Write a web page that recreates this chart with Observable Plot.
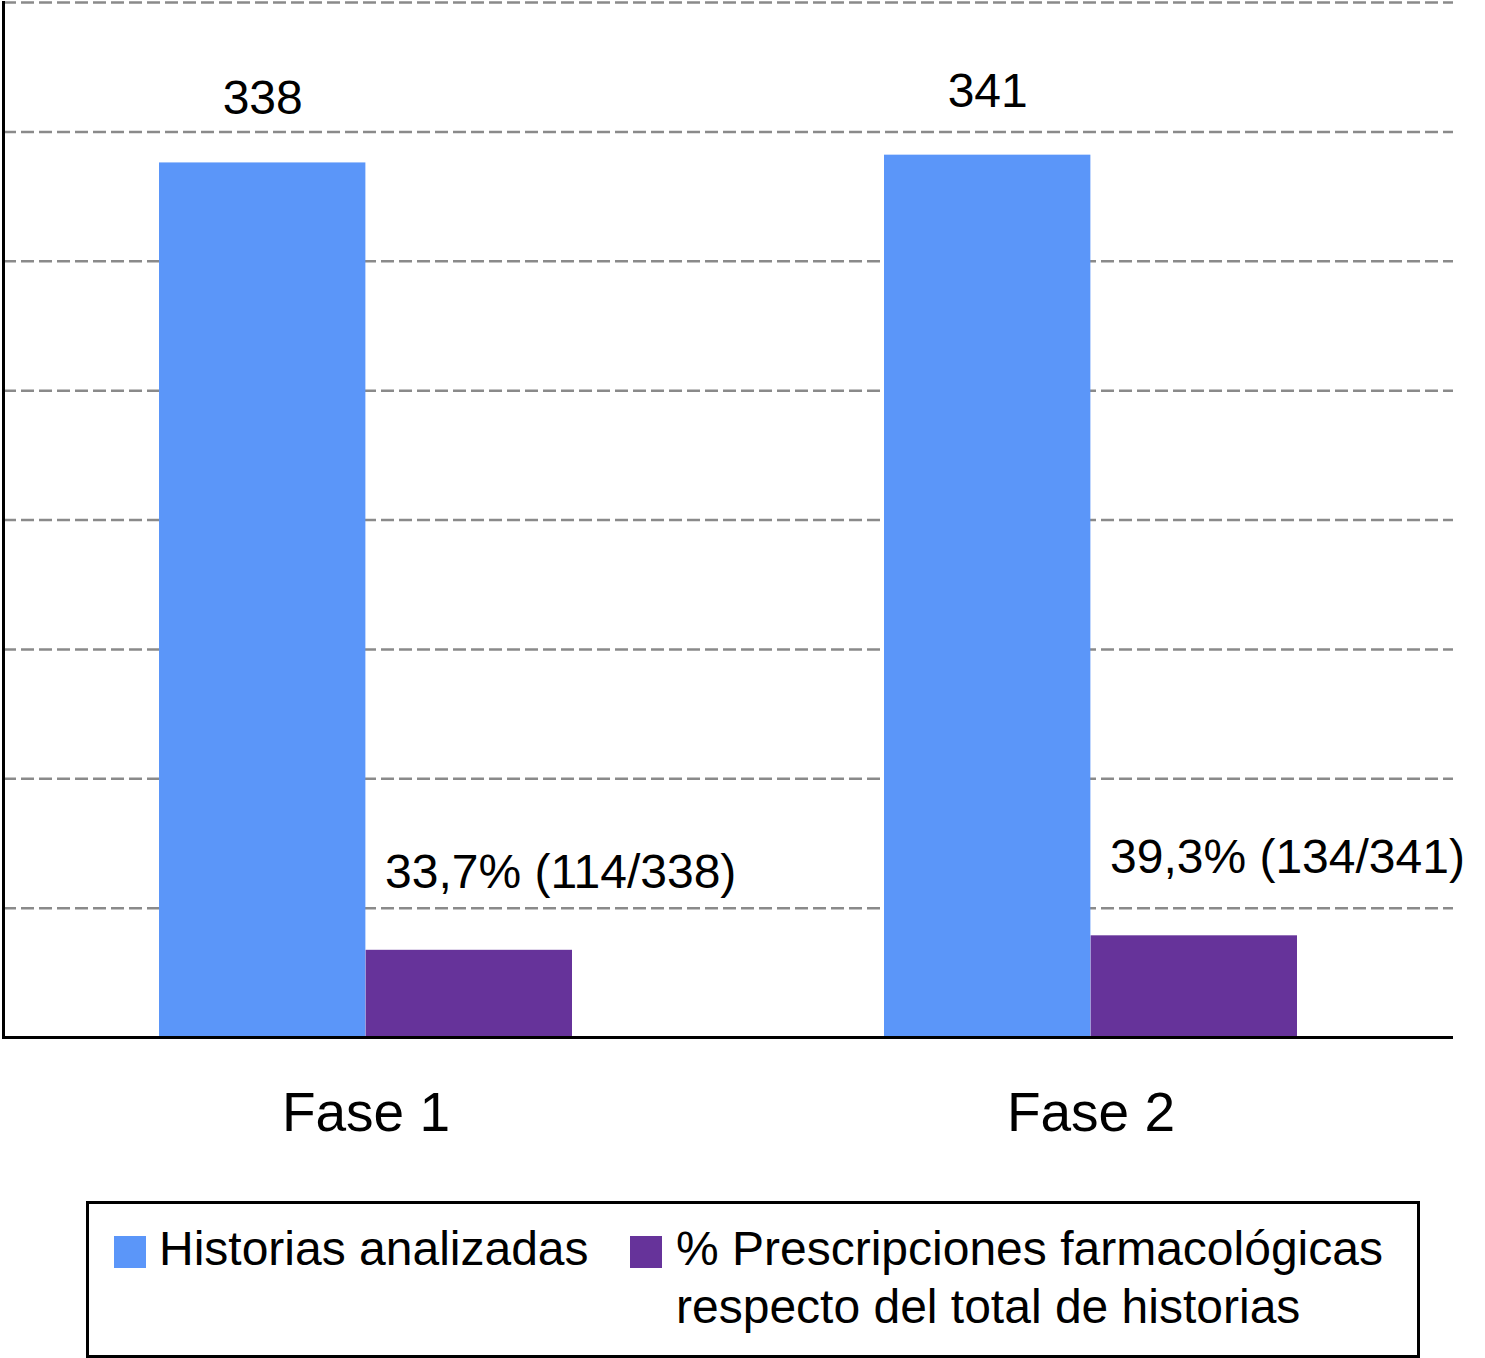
<!DOCTYPE html>
<html>
<head>
<meta charset="utf-8">
<script src="https://cdn.jsdelivr.net/npm/d3@7"></script>
<script src="https://cdn.jsdelivr.net/npm/@observablehq/plot@0.6"></script>
<style>
  html, body { margin: 0; padding: 0; background: #fff; }
  #wrap { position: relative; width: 1485px; height: 1358px; font-family: "Liberation Sans", Arial, Helvetica, sans-serif; }
  #legend { position: absolute; left: 86px; top: 1201px; width: 1334px; height: 157px; box-sizing: border-box; border: 3px solid #000; background: #fff; }
  .sw { position: absolute; width: 32px; height: 32px; }
  .lt { position: absolute; font-size: 48px; line-height: 58px; color: #000; white-space: nowrap; }
</style>
</head>
<body>
<div id="wrap"></div>
<script>
// ---- data ----
const fases = ["Fase 1", "Fase 2"];
const historias = [338, 341];
const porcentajes = [33.7, 39.3];
const etiquetasHistorias = ["338", "341"];
const etiquetasPct = ["33,7% (114/338)", "39,3% (134/341)"];
const series = ["Historias analizadas", "% Prescripciones farmacológicas\nrespecto del total de historias"];
const colores = ["#5b96f9", "#66339a"];
const gridTicks = [50, 100, 150, 200, 250, 300, 350, 400];
const yDomain = [0, 400];

// ---- layout ----
const W = 1485, H = 1180;
const mL = 3, mR = 32, mT = 2, mB = 143;
const padInner = 0.43, padOuter = 0.215;
const step = (W - mL - mR) / (fases.length - padInner + 2 * padOuter);
const bw = step * (1 - padInner);

const histData = fases.map((f, i) => ({fase: f, value: historias[i], label: etiquetasHistorias[i]}));
const pctData = fases.map((f, i) => ({fase: f, value: porcentajes[i], label: etiquetasPct[i]}));

const chart = Plot.plot({
  width: W, height: H,
  marginLeft: mL, marginRight: mR, marginTop: mT, marginBottom: mB,
  style: {fontFamily: '"Liberation Sans", Arial, Helvetica, sans-serif', fontSize: "55px", background: "#fff", color: "#000"},
  x: {domain: fases, paddingInner: padInner, paddingOuter: padOuter, label: null, tickSize: 0, tickPadding: 54},
  y: {domain: yDomain, axis: null},
  marks: [
    Plot.ruleY(gridTicks, {stroke: "#8a8a8a", strokeWidth: 2.5, strokeDasharray: "13,5"}),
    Plot.barY(histData, {x: "fase", y: "value", fill: colores[0], insetRight: bw / 2}),
    Plot.barY(pctData, {x: "fase", y: "value", fill: colores[1], insetLeft: bw / 2}),
    Plot.text(histData, {x: "fase", y: "value", text: "label", dx: -bw / 4, dy: -64, fontSize: 48, lineAnchor: "middle", fill: "#000"}),
    Plot.text(pctData, {x: "fase", y: "value", text: "label", textAnchor: "start", dx: 19, dy: -78, fontSize: 48, lineAnchor: "middle", fill: "#000"}),
    Plot.ruleY([0], {stroke: "#000", strokeWidth: 3}),
    Plot.frame({anchor: "left", stroke: "#000", strokeWidth: 3})
  ]
});

const wrap = document.getElementById("wrap");
wrap.appendChild(chart);

// ---- legend ----
const legend = document.createElement("div");
legend.id = "legend";
const items = [
  {sx: 25, tx: 70},
  {sx: 541, tx: 587}
];
series.forEach((s, i) => {
  const sw = document.createElement("div");
  sw.className = "sw";
  sw.style.left = items[i].sx + "px";
  sw.style.top = "32px";
  sw.style.background = colores[i];
  legend.appendChild(sw);
  const t = document.createElement("div");
  t.className = "lt";
  t.style.left = items[i].tx + "px";
  t.style.top = "16px";
  t.innerHTML = s.split("\n").join("<br>");
  legend.appendChild(t);
});
wrap.appendChild(legend);
</script>
</body>
</html>
